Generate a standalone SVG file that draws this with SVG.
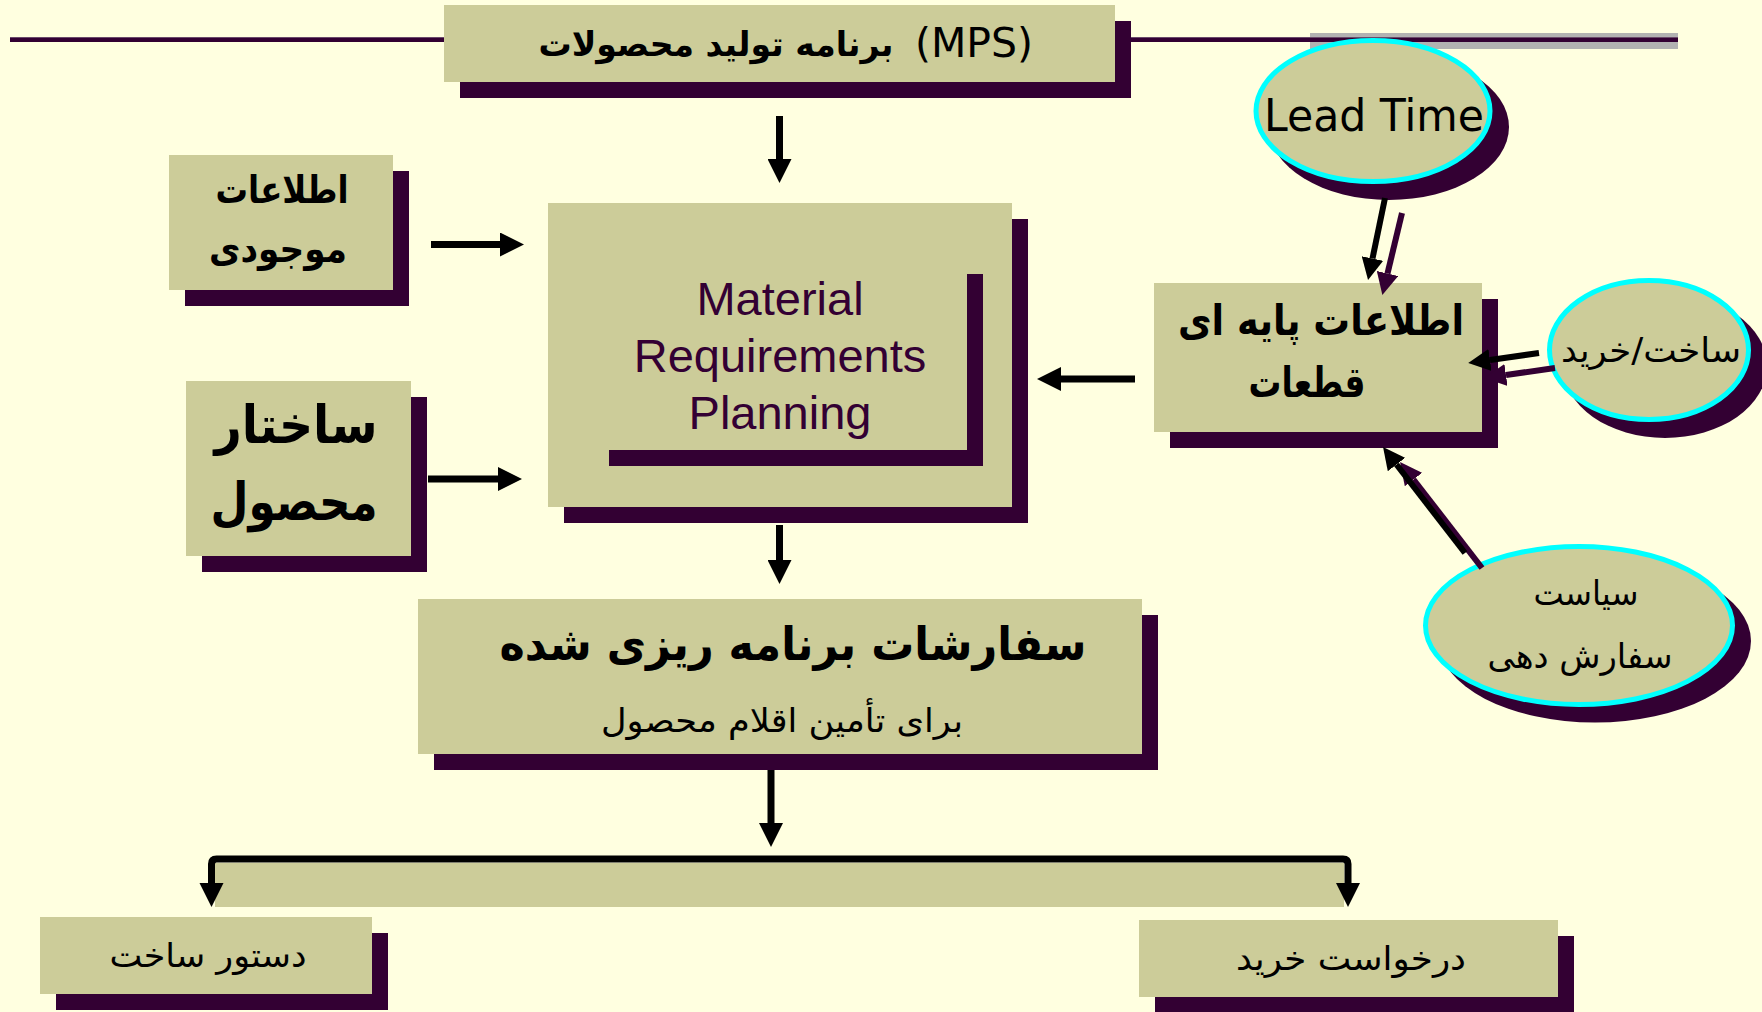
<svg xmlns="http://www.w3.org/2000/svg" width="1762" height="1012" viewBox="0 0 1762 1012">
  <style>
    .bg { fill: #FFFFE0; }
    .box { fill: #CCCC99; }
    .shd { fill: #330033; }
    .ell { fill: #CCCC99; stroke: #00FFFF; stroke-width: 5; }
    .fa { font-family: "DejaVu Sans", sans-serif; fill: #000; text-anchor: middle; }
    .b { font-weight: bold; }
    .en { font-family: "Liberation Sans", Arial, sans-serif; fill: #330033; text-anchor: middle; font-size: 47px; }
    .arr { stroke: #000; stroke-width: 7; fill: none; marker-end: url(#ah); }
    .arrs { stroke: #000; stroke-width: 6; fill: none; marker-end: url(#ahs); }
    .arrp { stroke: #330033; stroke-width: 6; fill: none; marker-end: url(#ahp); }
  </style>
  <defs>
    <marker id="ah" markerUnits="userSpaceOnUse" markerWidth="24" markerHeight="24" viewBox="0 0 24 24" refX="0" refY="12" orient="auto">
      <path d="M0,0 L24,12 L0,24 z" fill="#000"/>
    </marker>
    <marker id="ahs" markerUnits="userSpaceOnUse" markerWidth="22" markerHeight="22" viewBox="0 0 22 22" refX="0" refY="11" orient="auto">
      <path d="M0,0 L22,11 L0,22 z" fill="#000"/>
    </marker>
    <marker id="ahp" markerUnits="userSpaceOnUse" markerWidth="22" markerHeight="22" viewBox="0 0 22 22" refX="0" refY="11" orient="auto">
      <path d="M0,0 L22,11 L0,22 z" fill="#330033"/>
    </marker>
  </defs>

  <rect class="bg" x="0" y="0" width="1762" height="1012"/>

  <!-- title rule across the top -->
  <rect x="1310" y="33" width="368" height="16" fill="#B2B2B2"/>
  <rect x="10" y="37" width="1668" height="5" fill="#330033"/>
  <rect x="10" y="37" width="1668" height="1" fill="#6A4A6A"/>

  <!-- MPS -->
  <g id="mps">
    <rect class="shd" x="460" y="21" width="671" height="77"/>
    <rect class="box" x="444" y="5" width="671" height="77"/>
    <text class="fa b" x="716" y="56" font-size="34" textLength="355" lengthAdjust="spacingAndGlyphs">برنامه تولید محصولات</text>
    <text class="fa" x="974" y="57" font-size="41" textLength="118" lengthAdjust="spacingAndGlyphs">(MPS)</text>
  </g>

  <!-- inventory data -->
  <g id="inventory">
    <rect class="shd" x="185" y="171" width="224" height="135"/>
    <rect class="box" x="169" y="155" width="224" height="135"/>
    <text class="fa b" x="282" y="203" font-size="38" textLength="133" lengthAdjust="spacingAndGlyphs">اطلاعات</text>
    <text class="fa b" x="278" y="262" font-size="38" textLength="138" lengthAdjust="spacingAndGlyphs">موجودی</text>
  </g>

  <!-- product structure -->
  <g id="bom">
    <rect class="shd" x="202" y="397" width="225" height="175"/>
    <rect class="box" x="186" y="381" width="225" height="175"/>
    <text class="fa b" x="296" y="443" font-size="52" textLength="163" lengthAdjust="spacingAndGlyphs">ساختار</text>
    <text class="fa b" x="294" y="520" font-size="52" textLength="167" lengthAdjust="spacingAndGlyphs">محصول</text>
  </g>

  <!-- MRP -->
  <g id="mrp">
    <rect class="shd" x="564" y="219" width="464" height="304"/>
    <rect class="box" x="548" y="203" width="464" height="304"/>
    <rect class="shd" x="609" y="274" width="374" height="192"/>
    <rect class="box" x="593" y="258" width="374" height="192"/>
    <text class="en" x="780" y="315">Material</text>
    <text class="en" x="780" y="372">Requirements</text>
    <text class="en" x="780" y="429">Planning</text>
  </g>

  <!-- item master data -->
  <g id="item-data">
    <rect class="shd" x="1170" y="299" width="328" height="149"/>
    <rect class="box" x="1154" y="283" width="328" height="149"/>
    <text class="fa b" x="1321" y="335" font-size="42" textLength="286" lengthAdjust="spacingAndGlyphs">اطلاعات پایه ای</text>
    <text class="fa b" x="1307" y="397" font-size="42" textLength="117" lengthAdjust="spacingAndGlyphs">قطعات</text>
  </g>

  <!-- lead time -->
  <g id="lead-time">
    <ellipse class="shd" cx="1389" cy="127" rx="120" ry="73"/>
    <ellipse class="ell" cx="1373" cy="111" rx="117" ry="70.5"/>
    <text x="1374" y="131" font-family="'DejaVu Sans', Tahoma, sans-serif" font-size="45" text-anchor="middle" textLength="220" lengthAdjust="spacingAndGlyphs">Lead Time</text>
  </g>

  <!-- make / buy -->
  <g id="make-buy">
    <ellipse class="shd" cx="1665" cy="366" rx="102" ry="72"/>
    <ellipse class="ell" cx="1649" cy="350" rx="99.5" ry="69.5"/>
    <text class="fa" x="1651" y="362" font-size="34" textLength="180" lengthAdjust="spacingAndGlyphs">ساخت/خرید</text>
  </g>

  <!-- ordering policy -->
  <g id="order-policy">
    <ellipse class="shd" cx="1595" cy="641" rx="156" ry="81.5"/>
    <ellipse class="ell" cx="1579" cy="625.5" rx="153.5" ry="79"/>
    <text class="fa" x="1586" y="605" font-size="34" textLength="105" lengthAdjust="spacingAndGlyphs">سیاست</text>
    <text class="fa" x="1580" y="668" font-size="34" textLength="185" lengthAdjust="spacingAndGlyphs">سفارش دهی</text>
  </g>

  <!-- planned orders -->
  <g id="planned-orders">
    <rect class="shd" x="434" y="615" width="724" height="155"/>
    <rect class="box" x="418" y="599" width="724" height="155"/>
    <text class="fa b" x="793" y="660" font-size="46" textLength="587" lengthAdjust="spacingAndGlyphs">سفارشات برنامه ریزی شده</text>
    <text class="fa" x="782" y="732" font-size="33" textLength="362" lengthAdjust="spacingAndGlyphs">برای تأمین اقلام محصول</text>
  </g>

  <!-- work order -->
  <g id="work-order">
    <rect class="shd" x="56" y="933" width="332" height="77"/>
    <rect class="box" x="40" y="917" width="332" height="77"/>
    <text class="fa" x="208" y="967" font-size="33" textLength="197" lengthAdjust="spacingAndGlyphs">دستور ساخت</text>
  </g>

  <!-- purchase requisition -->
  <g id="purchase-req">
    <rect class="shd" x="1155" y="936" width="419" height="77"/>
    <rect class="box" x="1139" y="920" width="419" height="77"/>
    <text class="fa" x="1351" y="970" font-size="33" textLength="230" lengthAdjust="spacingAndGlyphs">درخواست خرید</text>
  </g>

  <!-- connectors -->
  <g id="connectors">
    <line class="arr" x1="779.5" y1="116" x2="779.5" y2="159"/>
    <line class="arr" x1="431" y1="244.5" x2="500" y2="244.5"/>
    <line class="arr" x1="428" y1="479" x2="498" y2="479"/>
    <line class="arr" x1="1135" y1="379" x2="1061" y2="379"/>
    <line class="arr" x1="779.5" y1="525" x2="779.5" y2="560"/>
    <line class="arr" x1="771" y1="770" x2="771" y2="823"/>

    <!-- split to the two order types -->
    <rect class="box" x="215" y="863" width="1129" height="44"/>
    <path class="arr" d="M211.5,883 V864 Q211.5,859 216.5,859 H1343 Q1348,859 1348,864 V883"/>
    <path d="M199.5,883 L223.5,883 L211.5,907 z" fill="#000"/>

    <!-- double arrows from the side inputs -->
    <line class="arrp" x1="1402" y1="213" x2="1387.5" y2="273.5"/>
    <line class="arrs" x1="1385" y1="198" x2="1372.5" y2="258.5"/>
    <line class="arrp" x1="1555" y1="368" x2="1506" y2="375"/>
    <line class="arrs" x1="1539" y1="353" x2="1490" y2="360"/>
    <line class="arrp" x1="1482" y1="568" x2="1413.5" y2="479.5"/>
    <line class="arrs" x1="1465" y1="553" x2="1396.5" y2="464.5"/>
  </g>
</svg>
